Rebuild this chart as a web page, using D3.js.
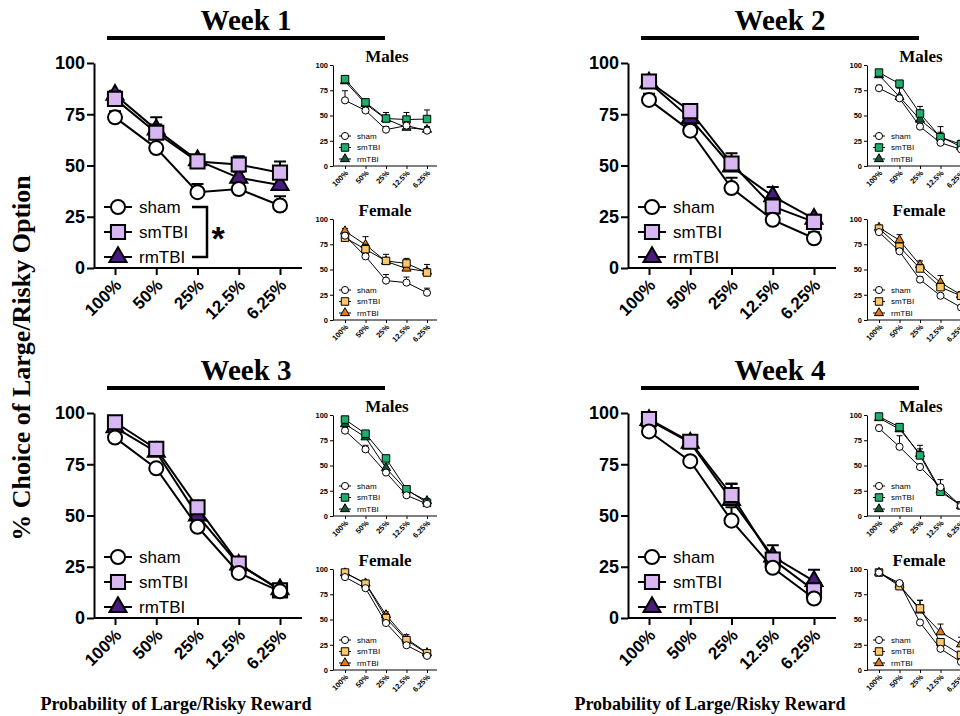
<!DOCTYPE html>
<html><head><meta charset="utf-8">
<script src="https://cdn.jsdelivr.net/npm/d3@7"></script>
<style>body{margin:0;background:#fff;} svg{display:block;}</style>
</head><body>
<script>
const probs = ["100%", "50%", "25%", "12.5%", "6.25%"];
const groups = ["sham", "smTBI", "rmTBI"];
const weeks = ["Week 1", "Week 2", "Week 3", "Week 4"];
const yTicks = [0, 25, 50, 75, 100];

// rows = sham, smTBI, rmTBI ; err = upper SEM
const w1All = [[73.5, 58.5, 37, 38.5, 30.5], [82.5, 66, 52, 50.5, 46.5], [84.5, 67.5, 52.5, 44, 40.5]];
const w1AllErr = [[3, 2, 4, 3, 4.5], [3, 4, 3, 4, 5.5], [2, 6, 2, 3, 3]];
const w1Male = [[65, 55, 36, 40, 35], [86, 63, 47, 46, 46.5], [84, 61.5, 46.5, 38, 36]];
const w1MaleErr = [[9.5, 3, 3, 4, 3], [2, 3, 6, 7, 9], [2, 3, 3, 3, 3]];
const w1Female = [[83.5, 63, 39, 37, 27], [81.5, 70, 58.5, 56, 47], [88, 74.5, 58, 51, 48]];
const w1FemaleErr = [[3, 3, 6, 5.5, 4.5], [3, 5, 6.5, 5, 8], [2.5, 8, 3, 4, 3]];

const w2All = [[82, 67, 39, 23.5, 14.5], [91, 76.5, 51, 30, 22.5], [90.5, 73, 49.5, 35, 24]];
const w2AllErr = [[3, 3, 5, 3, 3], [2, 2, 5, 4, 3], [2, 3, 3, 4.5, 2]];
const w2Male = [[77, 67, 39, 23, 16.5], [92.5, 81.5, 52, 28.5, 21.5], [90, 68.5, 46, 29, 19]];
const w2MaleErr = [[3, 3, 3, 2, 2], [2, 2, 7, 5, 4], [2, 8.5, 3, 10, 3]];
const w2Female = [[87, 68, 40, 24, 12.5], [90.5, 72.5, 51, 32.5, 24], [91.5, 79, 54.5, 37, 25]];
const w2FemaleErr = [[2, 3, 3, 2, 2], [2, 3, 4, 4, 3], [2, 5.5, 4, 7, 3]];

const w3All = [[88, 73, 44.5, 22, 13], [95.5, 82.5, 54, 26.5, 13.5], [93, 81, 50, 26, 14]];
const w3AllErr = [[2, 2, 3, 2, 1.5], [1.5, 2, 2, 2, 1.5], [2, 2, 3, 2, 1.5]];
const w3Male = [[84.5, 66, 43, 20.5, 12], [95.5, 81.5, 57, 26.5, 13], [91, 78, 47.5, 25.5, 15]];
const w3MaleErr = [[3, 4, 3, 2, 2], [2, 3, 3, 2, 2], [2, 3, 4, 2, 2]];
const w3Female = [[92, 81, 46.5, 24.5, 14], [96.5, 85.5, 51.5, 29.5, 16.5], [96, 86, 54.5, 31, 17]];
const w3FemaleErr = [[2, 2, 2, 2, 1.5], [2, 3, 4, 3, 1.5], [2, 2, 3, 4, 2]];

const w4All = [[91, 76.5, 47.5, 24.5, 9.5], [97, 86, 60, 28.5, 13.5], [96.5, 85.5, 57.5, 30, 18]];
const w4AllErr = [[2, 2, 6.5, 2, 2], [1.5, 2, 5.5, 3, 2], [1.5, 2, 8, 5.5, 5.5]];
const w4Male = [[87, 68.5, 48.5, 28.5, 10], [98.5, 88, 60, 24, 10.5], [97, 86, 61.5, 25.5, 10]];
const w4MaleErr = [[3, 11, 3, 7.5, 2], [1, 2, 10, 3, 2], [1, 2, 5, 3, 2]];
const w4Female = [[96.5, 86, 47, 21, 8], [96.5, 83, 61, 27.5, 15], [96.5, 84.5, 59, 37.5, 25.5]];
const w4FemaleErr = [[1, 2, 2, 2, 2], [1, 2, 8, 3, 3], [1, 2, 10, 8, 7]];

const colAll = ["#ffffff", "#d8b6f2", "#4a1c7a"];
const colMale = ["#ffffff", "#1db06c", "#0e5a36"];
const colFemale = ["#ffffff", "#fcc769", "#e5790f"];

const SANS = "'Liberation Sans', Arial, sans-serif";
const SERIF = "'Liberation Serif', 'Times New Roman', serif";
const shapes = [d3.symbolCircle, d3.symbolSquare, d3.symbolTriangle];

const means = [
  [w1All, w1Male, w1Female], [w2All, w2Male, w2Female],
  [w3All, w3Male, w3Female], [w4All, w4Male, w4Female]
];
const errs = [
  [w1AllErr, w1MaleErr, w1FemaleErr], [w2AllErr, w2MaleErr, w2FemaleErr],
  [w3AllErr, w3MaleErr, w3FemaleErr], [w4AllErr, w4MaleErr, w4FemaleErr]
];

const svg = d3.select("body").append("svg").attr("width", 960).attr("height", 716);

// big panel / small panel settings
const big = {x0: 115, x1: 280, ax: 94, xe: 302, yt: 63, yb: 268, tk: 7, sw: 2, fy: 18, fx: 17,
  cap: 6, sizes: [155, 200, 125], lx: 118, ll: 14, tx: 21, legDy: [-61, -36, -11], fl: 17,
  lab: [-8, 12]};
const small = {x0: 345, x1: 427, ax: 333, xe: 437, tk: 3, sw: 1, fy: 7.5, fx: 7.5,
  cap: 3, sizes: [40, 56, 36], lx: 345, ll: 6, tx: 12, legDy: [-30, -18.5, -7], fl: 8,
  lab: [-3, 5]};

function panel(g, cfg, m, e, colors) {
  const x = d3.scalePoint().domain(probs).range([cfg.x0, cfg.x1]);
  const y = d3.scaleLinear().domain([0, 100]).range([cfg.yb, cfg.yt]);

  const ya = g.append("g").attr("transform", `translate(${cfg.ax},0)`)
    .call(d3.axisLeft(y).tickValues(yTicks).tickSize(cfg.tk).tickSizeOuter(0).tickPadding(2));
  ya.select(".domain").attr("stroke-width", cfg.sw);
  ya.selectAll(".tick line").attr("stroke-width", cfg.sw);
  ya.selectAll("text").attr("font-size", cfg.fy).attr("font-weight", "bold").attr("font-family", SANS);

  const xa = g.append("g").attr("transform", `translate(0,${cfg.yb})`)
    .call(d3.axisBottom(x).tickSize(cfg.tk).tickSizeOuter(0));
  xa.select(".domain").attr("d", `M${cfg.ax},0H${cfg.xe}`).attr("stroke-width", cfg.sw);
  xa.selectAll(".tick line").attr("stroke-width", cfg.sw);
  xa.selectAll("text")
    .attr("font-size", cfg.fx).attr("font-weight", "bold").attr("font-family", SANS)
    .attr("text-anchor", "end").attr("x", cfg.lab[0]).attr("y", cfg.lab[1]).attr("dy", "0.35em")
    .attr("transform", "rotate(-45)");

  const line = d3.line().x((d, i) => x(probs[i])).y(d => y(d));

  // drawn back to front: rmTBI, smTBI, sham
  [2, 1, 0].forEach(s => {
    const sg = g.append("g");
    sg.selectAll("path.err").data(m[s]).join("path").attr("class", "err")
      .attr("d", (d, i) => {
        const px = x(probs[i]), y0 = y(d), y1 = y(d + e[s][i]);
        return `M${px},${y0}V${y1}M${px - cfg.cap},${y1}H${px + cfg.cap}`;
      })
      .attr("fill", "none").attr("stroke", "#000").attr("stroke-width", cfg.sw);
    sg.append("path").datum(m[s]).attr("d", line)
      .attr("fill", "none").attr("stroke", "#000").attr("stroke-width", cfg.sw);
    sg.selectAll("path.mk").data(m[s]).join("path").attr("class", "mk")
      .attr("d", d3.symbol(shapes[s], cfg.sizes[s]))
      .attr("transform", (d, i) => `translate(${x(probs[i])},${y(d)})`)
      .attr("fill", colors[s]).attr("stroke", "#000").attr("stroke-width", cfg.sw);
  });

  groups.forEach((name, s) => {
    const ly = cfg.yb + cfg.legDy[s];
    g.append("line").attr("x1", cfg.lx - cfg.ll).attr("x2", cfg.lx + cfg.ll)
      .attr("y1", ly).attr("y2", ly).attr("stroke", "#000").attr("stroke-width", cfg.sw);
    g.append("path").attr("d", d3.symbol(shapes[s], cfg.sizes[s])())
      .attr("transform", `translate(${cfg.lx},${ly})`)
      .attr("fill", colors[s]).attr("stroke", "#000").attr("stroke-width", cfg.sw);
    g.append("text").attr("x", cfg.lx + cfg.tx).attr("y", ly).attr("dy", "0.35em")
      .attr("font-family", SANS).attr("font-size", cfg.fl).text(name);
  });
}

weeks.forEach((wk, w) => {
  const dx = (w % 2) * 534, dy = Math.floor(w / 2) * 350;
  const g = svg.append("g").attr("transform", `translate(${dx},${dy})`);

  g.append("text").attr("x", 246).attr("y", 30).attr("text-anchor", "middle")
    .attr("font-family", SERIF).attr("font-weight", "bold").attr("font-size", 29).text(wk);
  g.append("line").attr("x1", 107).attr("x2", 385).attr("y1", 38).attr("y2", 38)
    .attr("stroke", "#000").attr("stroke-width", 4);

  panel(g, big, means[w][0], errs[w][0], colAll);
  panel(g, Object.assign({}, small, {yt: 65, yb: 166}), means[w][1], errs[w][1], colMale);
  panel(g, Object.assign({}, small, {yt: 219, yb: 320}), means[w][2], errs[w][2], colFemale);

  g.append("text").attr("x", 387).attr("y", 62).attr("text-anchor", "middle")
    .attr("font-family", SERIF).attr("font-weight", "bold").attr("font-size", 17).text("Males");
  g.append("text").attr("x", 385).attr("y", 216).attr("text-anchor", "middle")
    .attr("font-family", SERIF).attr("font-weight", "bold").attr("font-size", 17).text("Female");

  if (w >= 2) {
    g.append("text").attr("x", 176).attr("y", 360).attr("text-anchor", "middle")
      .attr("font-family", SERIF).attr("font-weight", "bold").attr("font-size", 18)
      .text("Probability of Large/Risky Reward");
  }
  if (w === 0) {
    g.append("path").attr("d", "M192,207H207V257H192")
      .attr("fill", "none").attr("stroke", "#000").attr("stroke-width", 2.5);
    g.append("text").attr("x", 218).attr("y", 250).attr("text-anchor", "middle")
      .attr("font-family", SANS).attr("font-weight", "bold").attr("font-size", 34).text("*");
  }
});

svg.append("text").attr("transform", "translate(30,358) rotate(-90)").attr("text-anchor", "middle")
  .attr("font-family", SERIF).attr("font-weight", "bold").attr("font-size", 26)
  .text("% Choice of Large/Risky Option");
</script>
</body></html>
